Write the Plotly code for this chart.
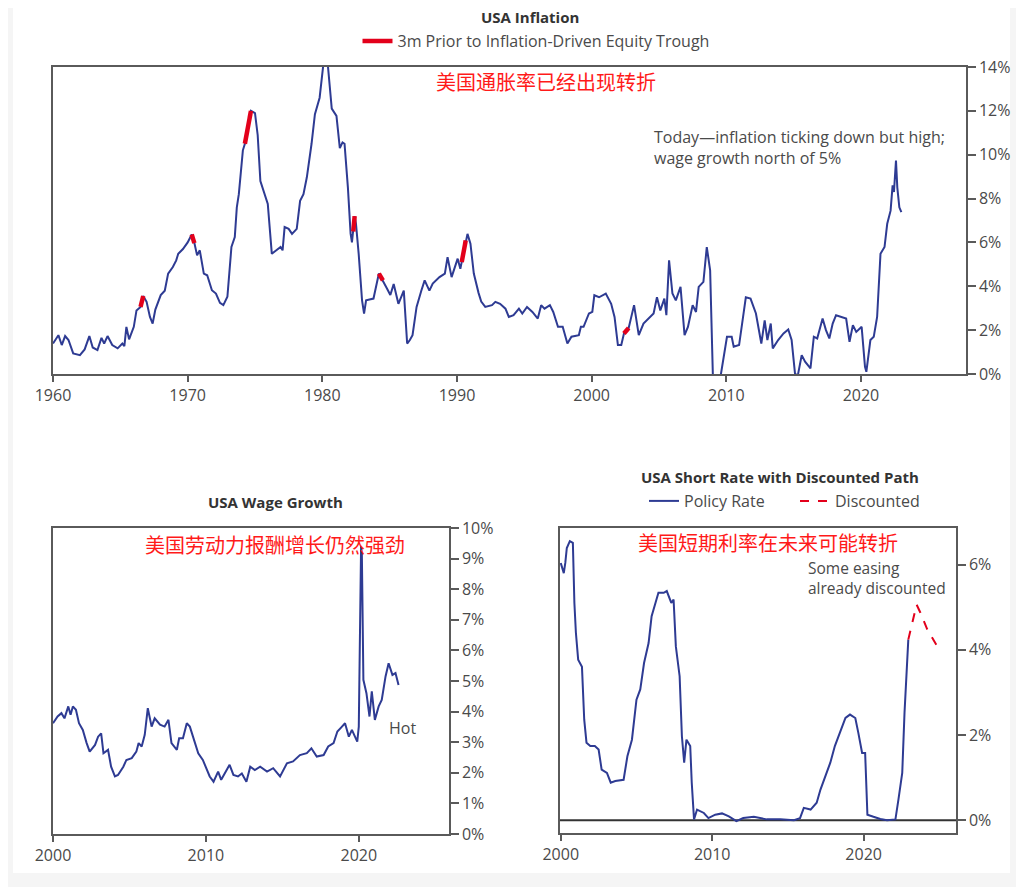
import plotly.graph_objects as go

# ---------------- data ----------------
infl_year = [1960.0,1960.4,1960.65,1960.9,1961.15,1961.5,1962.0,1962.35,1962.7,1962.95,1963.3,1963.6,1963.8,1964.05,1964.4,1964.8,1965.15,1965.3,1965.45,1965.65,1966.0,1966.2,1966.5,1966.7,1966.95,1967.2,1967.4,1967.6,1968.0,1968.3,1968.55,1968.9,1969.15,1969.3,1969.65,1970.0,1970.3,1970.5,1970.7,1970.9,1971.2,1971.45,1971.8,1972.1,1972.4,1972.65,1972.95,1973.25,1973.5,1973.65,1973.8,1974.1,1974.25,1974.45,1974.7,1975.0,1975.2,1975.4,1975.7,1975.95,1976.25,1976.55,1976.9,1977.05,1977.2,1977.5,1977.75,1978.1,1978.35,1978.6,1978.85,1979.2,1979.45,1979.8,1980.0,1980.2,1980.35,1980.55,1980.7,1981.05,1981.3,1981.5,1981.65,1981.9,1982.1,1982.2,1982.3,1982.4,1982.5,1982.7,1982.95,1983.1,1983.25,1983.8,1984.2,1984.5,1984.8,1985.05,1985.3,1985.65,1986.05,1986.3,1986.5,1986.7,1987.0,1987.35,1987.6,1987.95,1988.2,1988.7,1989.1,1989.3,1989.6,1990.05,1990.25,1990.35,1990.65,1990.78,1991.0,1991.25,1991.6,1991.8,1992.1,1992.6,1992.85,1993.2,1993.6,1993.85,1994.2,1994.6,1994.85,1995.2,1995.6,1996.0,1996.25,1996.5,1996.9,1997.15,1997.5,1997.85,1998.2,1998.5,1999.05,1999.2,1999.4,1999.8,2000.05,2000.2,2000.55,2000.8,2001.05,2001.45,2001.7,2001.95,2002.2,2002.4,2002.75,2003.15,2003.5,2003.85,2004.2,2004.6,2004.85,2005.1,2005.4,2005.55,2005.75,2006.0,2006.25,2006.6,2006.9,2007.15,2007.5,2007.75,2007.95,2008.3,2008.55,2008.8,2009.0,2009.3,2009.55,2009.8,2010.05,2010.4,2010.55,2010.95,2011.2,2011.45,2011.8,2012.2,2012.6,2012.85,2013.05,2013.3,2013.45,2013.85,2014.25,2014.6,2014.85,2015.1,2015.3,2015.6,2015.85,2016.25,2016.5,2016.75,2017.15,2017.4,2017.65,2017.9,2018.15,2018.55,2018.9,2019.15,2019.4,2019.65,2020.05,2020.3,2020.4,2020.7,2020.95,2021.2,2021.45,2021.75,2021.95,2022.2,2022.35,2022.45,2022.6,2022.7,2022.85,2023.0]
infl_val = [1.39,1.77,1.32,1.73,1.55,0.94,0.86,1.12,1.73,1.21,1.09,1.65,1.39,1.73,1.32,1.17,1.39,1.27,2.15,1.58,2.15,2.9,3.06,3.56,3.29,2.6,2.3,2.94,3.6,3.8,4.58,4.88,5.18,5.48,5.7,6.0,6.36,5.97,5.41,5.64,4.58,4.5,3.82,3.67,3.24,3.14,3.52,5.79,6.24,7.6,8.2,10.2,10.5,11.2,12.0,11.9,10.9,8.8,8.2,7.76,5.48,5.64,5.79,5.64,6.7,6.62,6.39,6.62,7.9,8.2,8.97,10.5,11.85,12.6,13.8,14.8,14.5,13.06,12.1,11.77,10.3,10.56,10.5,8.5,6.4,6.0,6.5,7.2,6.85,5.48,3.36,2.76,3.36,3.44,4.58,4.27,3.9,3.6,4.1,3.2,3.8,1.39,1.55,1.77,3.06,3.8,4.27,3.8,4.12,4.42,4.58,5.33,4.42,5.26,4.8,5.1,6.09,6.39,5.94,4.58,3.7,3.3,3.06,3.14,3.29,3.2,2.98,2.6,2.68,2.98,2.76,3.06,2.83,2.53,3.14,2.98,3.14,2.83,2.15,2.15,1.39,1.7,1.77,2.15,2.15,2.76,2.83,3.59,3.5,3.59,3.67,3.2,2.6,1.32,1.32,1.85,2.1,3.14,1.77,2.3,2.53,2.76,3.5,2.9,3.44,2.68,5.18,3.67,3.36,3.97,1.77,2.15,3.14,2.83,3.97,4.2,5.79,4.73,0.0,-1.5,-0.2,0.79,1.7,1.7,1.24,1.32,2.45,3.5,3.44,2.76,1.39,2.45,1.55,2.3,1.17,1.55,1.85,2.03,1.55,0.03,-0.1,0.86,0.56,0.26,1.7,1.62,2.53,2.0,1.62,2.3,2.68,2.6,2.53,1.47,2.23,1.92,2.15,0.33,0.1,1.55,1.7,2.6,5.48,5.79,6.85,7.45,8.6,8.3,9.73,8.5,7.6,7.38]

# periods "3m prior to inflation-driven equity trough"
trough_start = [1966.5, 1970.3, 1974.25, 1982.3, 1984.2, 1990.35, 2002.4]
trough_end   = [1966.7, 1970.5, 1974.7, 1982.4, 1984.5, 1990.65, 2002.75]

wage_year = [2000.0,2000.3,2000.55,2000.75,2001.0,2001.15,2001.3,2001.5,2001.7,2001.95,2002.2,2002.4,2002.75,2002.95,2003.15,2003.3,2003.6,2003.8,2004.05,2004.25,2004.6,2004.8,2005.15,2005.45,2005.6,2005.8,2006.0,2006.2,2006.45,2006.65,2007.0,2007.3,2007.55,2007.75,2008.1,2008.25,2008.5,2008.75,2008.95,2009.15,2009.5,2009.8,2010.05,2010.25,2010.5,2010.8,2011.0,2011.25,2011.55,2011.8,2012.1,2012.35,2012.65,2012.9,2013.2,2013.55,2014.0,2014.4,2014.85,2015.3,2015.7,2016.15,2016.6,2016.9,2017.25,2017.7,2018.0,2018.35,2018.6,2018.9,2019.1,2019.35,2019.55,2019.75,2019.9,2020.0,2020.15,2020.2,2020.3,2020.5,2020.7,2020.85,2021.05,2021.3,2021.5,2021.75,2021.95,2022.2,2022.4,2022.6]
wage_val = [3.62,3.84,3.95,3.78,4.17,3.9,4.17,4.06,3.62,3.4,2.97,2.69,2.91,3.18,3.29,2.64,2.75,2.2,1.88,1.93,2.2,2.42,2.48,2.69,2.97,2.86,3.24,4.11,3.51,3.78,3.57,3.51,3.73,2.97,2.75,3.13,3.13,3.62,3.51,3.18,2.64,2.42,2.09,1.88,1.71,2.04,1.77,1.98,2.26,1.93,1.88,1.98,1.71,2.2,2.09,2.2,2.04,2.15,1.88,2.31,2.37,2.58,2.64,2.8,2.53,2.58,2.86,2.97,3.35,3.51,3.62,3.18,3.4,3.18,3.02,3.51,9.4,9.18,5.04,4.6,3.84,4.66,3.73,4.17,4.38,5.15,5.58,5.2,5.26,4.87]

rate_year = [2000.0,2000.2,2000.3,2000.4,2000.6,2000.8,2000.9,2001.0,2001.15,2001.4,2001.55,2001.7,2001.95,2002.25,2002.5,2002.7,2003.05,2003.3,2003.6,2004.15,2004.4,2004.7,2005.0,2005.25,2005.5,2005.8,2006.0,2006.25,2006.45,2006.8,2007.0,2007.3,2007.45,2007.6,2007.85,2008.0,2008.15,2008.3,2008.55,2008.65,2008.8,2009.0,2009.45,2009.75,2010.2,2010.65,2011.1,2011.6,2012.05,2012.75,2013.6,2014.5,2015.4,2015.8,2016.05,2016.5,2016.9,2017.15,2017.45,2017.8,2018.1,2018.45,2018.8,2019.1,2019.45,2019.65,2019.9,2020.1,2020.25,2020.65,2021.1,2021.55,2022.1,2022.3,2022.55,2022.7,2022.8,2022.95]
rate_val = [6.04,5.8,6.04,6.39,6.55,6.51,5.1,4.4,3.77,3.6,2.36,1.82,1.74,1.74,1.66,1.19,1.11,0.88,0.92,0.95,1.5,1.89,2.83,3.07,3.69,4.16,4.79,5.1,5.34,5.34,5.38,5.1,5.18,4.08,3.38,1.97,1.35,1.89,1.74,0.88,0.02,0.25,0.17,0.05,0.13,0.16,0.09,-0.02,0.05,0.08,0.02,0.02,0.0,0.05,0.29,0.25,0.41,0.72,1.03,1.35,1.74,2.05,2.4,2.48,2.4,2.05,1.58,1.58,0.13,0.08,0.03,0.0,0.02,0.49,1.11,2.52,3.38,4.24]

disc_year = [2022.95, 2023.5, 2023.75, 2024.2, 2024.8]
disc_val = [4.24, 5.06, 4.87, 4.48, 4.12]

# ---------------- styles ----------------
# page body has an 8px margin: figure fills the rest of the 1024x895 window
W, H = 1008, 879
OFF = 8
BLUE = "#2e3b93"
RED = "#e3001b"
AX = "#5a5a5a"
TXT = "#4a4a4a"
FONT = "Open Sans, Noto Sans CJK SC, sans-serif"
CJK = "Noto Sans CJK SC, sans-serif"

def px_x(p):
    return (p - OFF) / W

def px_y(p):
    return 1 - (p - OFF) / H

# red segments drawn from the main series
red_x, red_y = [], []
for s, e in zip(trough_start, trough_end):
    for yr, v in zip(infl_year, infl_val):
        if s - 1e-9 <= yr <= e + 1e-9:
            red_x.append(yr)
            red_y.append(v)
    red_x.append(None)
    red_y.append(None)

fig = go.Figure()

fig.add_trace(go.Scatter(x=infl_year, y=infl_val, mode="lines", xaxis="x", yaxis="y",
                         line=dict(color=BLUE, width=2), showlegend=False))
fig.add_trace(go.Scatter(x=red_x, y=red_y, mode="lines", xaxis="x", yaxis="y",
                         line=dict(color=RED, width=4.5), connectgaps=False,
                         name="3m Prior to Inflation-Driven Equity Trough", legend="legend"))

fig.add_trace(go.Scatter(x=wage_year, y=wage_val, mode="lines", xaxis="x2", yaxis="y2",
                         line=dict(color=BLUE, width=2), showlegend=False))

fig.add_trace(go.Scatter(x=rate_year, y=rate_val, mode="lines", xaxis="x3", yaxis="y3",
                         line=dict(color=BLUE, width=2), name="Policy Rate", legend="legend2"))
fig.add_trace(go.Scatter(x=disc_year, y=disc_val, mode="lines", xaxis="x3", yaxis="y3",
                         line=dict(color=RED, width=2, dash="dash"), name="Discounted",
                         legend="legend2"))

axis_common = dict(showline=True, linecolor=AX, linewidth=1.5, mirror=True,
                   ticks="outside", tickcolor=AX, tickwidth=1.5, automargin=False,
                   showgrid=False, zeroline=False,
                   tickfont=dict(family=FONT, size=16, color=TXT))

fig.update_layout(
    width=W, height=H, autosize=False,
    margin=dict(l=0, r=0, t=0, b=0, autoexpand=False),
    paper_bgcolor="#f5f5f5", plot_bgcolor="white",
    font=dict(family=FONT, color=TXT),
    xaxis=dict(domain=[px_x(53), px_x(966)], anchor="y", range=[1960, 2027.8],
               tickvals=[1960, 1970, 1980, 1990, 2000, 2010, 2020], ticklen=6, **axis_common),
    yaxis=dict(domain=[px_y(374), px_y(67)], anchor="x", side="right", range=[0, 14],
               tickvals=[0, 2, 4, 6, 8, 10, 12, 14],
               ticktext=["0%", "2%", "4%", "6%", "8%", "10%", "12%", "14%"], ticklen=8,
               **axis_common),
    xaxis2=dict(domain=[px_x(53), px_x(449)], anchor="y2", range=[2000, 2025.9],
                tickvals=[2000, 2010, 2020], ticklen=6, **axis_common),
    yaxis2=dict(domain=[px_y(834), px_y(528)], anchor="x2", side="right", range=[0, 10],
                tickvals=list(range(0, 11)), ticktext=[f"{i}%" for i in range(0, 11)],
                ticklen=8, **axis_common),
    xaxis3=dict(domain=[px_x(560), px_x(956)], anchor="y3", range=[1999.95, 2026.1],
                tickvals=[2000, 2010, 2020], ticklen=6, **axis_common),
    yaxis3=dict(domain=[px_y(833), px_y(528)], anchor="x3", side="right", range=[-0.3, 6.86],
                tickvals=[0, 2, 4, 6], ticktext=["0%", "2%", "4%", "6%"], ticklen=8,
                **axis_common),
    legend=dict(x=px_x(536), y=px_y(41), xanchor="center", yanchor="middle",
                orientation="h", bgcolor="rgba(0,0,0,0)",
                font=dict(family=FONT, size=16, color=TXT)),
    legend2=dict(x=px_x(644), y=px_y(501), xanchor="left", yanchor="middle",
                 orientation="h", bgcolor="rgba(0,0,0,0)",
                 entrywidth=106, entrywidthmode="pixels",
                 font=dict(family=FONT, size=16, color=TXT)),
)

# white page area (the reference has a light grey strip around it)
fig.add_shape(type="rect", xref="paper", yref="paper", x0=px_x(13), x1=px_x(1010),
              y0=px_y(873), y1=1.0, fillcolor="white", line=dict(width=0), layer="below")

# zero line in the short-rate panel
fig.add_shape(type="line", xref="x3 domain", yref="y3", x0=0, x1=1, y0=0, y1=0,
              line=dict(color="#333333", width=2), layer="below")

def note(text, x, y, size=16, color=TXT, bold=False, xanchor="center", yanchor="middle",
         family=FONT, align="center"):
    if bold:
        text = f"<b>{text}</b>"
    fig.add_annotation(text=text, xref="paper", yref="paper", x=px_x(x), y=px_y(y),
                       xanchor=xanchor, yanchor=yanchor, showarrow=False, align=align,
                       borderpad=0, font=dict(family=family, size=size, color=color))

note("USA Inflation", 530, 17, size=15, color="#333333", bold=True)
note("USA Wage Growth", 275, 502, size=15, color="#333333", bold=True)
note("USA Short Rate with Discounted Path", 780, 477, size=15, color="#333333", bold=True)

note("美国通胀率已经出现转折", 546, 81, size=20, color="#ff1a1a", family=CJK)
note("美国劳动力报酬增长仍然强劲", 275, 544, size=20, color="#ff1a1a", family=CJK)
note("美国短期利率在未来可能转折", 768, 542, size=20, color="#ff1a1a", family=CJK)

note("Today—inflation ticking down but high;<br>wage growth north of 5%", 653, 147,
     size=16, xanchor="left", align="left")
note("Hot", 388, 728, size=16, xanchor="left")
note("Some easing<br>already discounted", 807, 578, size=15.5, xanchor="left", align="left")

fig.write_html("out.html")
